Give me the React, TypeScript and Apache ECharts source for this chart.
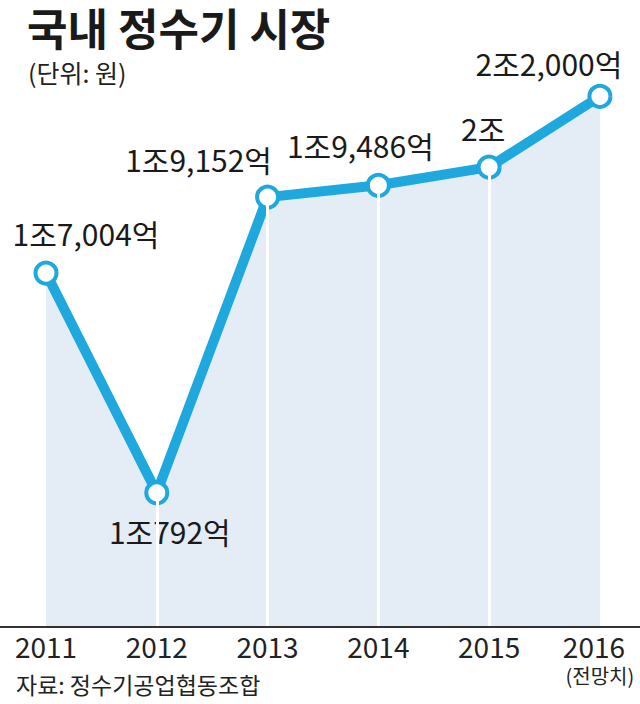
import React, { useEffect, useRef } from 'react';
import * as echarts from 'echarts';

const categories = ['2011', '2012', '2013', '2014', '2015', '2016'];
const values = [17004, 10792, 19152, 19486, 20000, 22000]; // 억원
const valueLabels = ['1조7,004억', '1조792억', '1조9,152억', '1조9,486억', '2조', '2조2,000억'];
const forecastNote = '(전망치)';
const titleText = '국내 정수기 시장';
const unitText = '(단위: 원)';
const sourceText = '자료: 정수기공업협동조합';

const labelOffsets = [
  [40, -40],
  [13, 38],
  [-69, -38],
  [-18, -40],
  [-6, -39],
  [-51, -33],
];

const FONT = '"Noto Sans CJK KR", "Noto Sans", sans-serif';
const LINE = '#1ea8dd';
const AREA = '#e4ecf6';
const Y_MIN = 7000;
const Y_MAX = 23000;

export default function App() {
  const ref = useRef<HTMLDivElement>(null);
  useEffect(() => {
    if (!ref.current) return;
    const chart = echarts.init(ref.current, null, { renderer: 'svg' });
    const option: any = {
      animation: false,
      backgroundColor: '#ffffff',
      grid: { left: 46, right: 37, top: 61, bottom: 77 },
      xAxis: {
        type: 'category',
        data: categories,
        boundaryGap: false,
        axisLine: { show: false },
        axisTick: { show: false },
        splitLine: { show: false },
        axisLabel: {
          interval: 0,
          margin: 4,
          fontSize: 28,
          color: '#222',
          fontFamily: FONT,
          lineHeight: 30,
          verticalAlign: 'top',
          formatter: (v: string, i: number) =>
            i === categories.length - 1 ? `{y|${v}}\n{s|${forecastNote}}` : v,
          rich: {
            y: { fontSize: 28, color: '#222', fontFamily: FONT, lineHeight: 30, padding: [0, 12, 0, 0] },
            s: { fontSize: 20, color: '#222', fontFamily: FONT, lineHeight: 29 },
          },
        },
      },
      yAxis: {
        type: 'value',
        min: Y_MIN,
        max: Y_MAX,
        show: false,
        splitLine: { show: false },
      },
      series: [
        {
          type: 'line',
          data: values,
          symbol: 'none',
          lineStyle: { width: 0 },
          areaStyle: { color: AREA, opacity: 1 },
          z: 1,
          silent: true,
        },
        {
          type: 'line',
          data: values,
          symbol: 'none',
          lineStyle: { width: 0, opacity: 0 },
          z: 2,
          silent: true,
          markLine: {
            silent: true,
            symbol: 'none',
            label: { show: false },
            lineStyle: { color: '#ffffff', width: 3, type: 'solid' },
            data: values
              .map((v, i) => [
                { coord: [categories[i], v] },
                { coord: [categories[i], Y_MIN] },
              ])
              .slice(1, values.length - 1),
          },
        },
        {
          type: 'line',
          data: values.map((v, i) => ({
            value: v,
            label: {
              show: true,
              position: 'inside',
              offset: labelOffsets[i],
              formatter: valueLabels[i],
            },
          })),
          z: 3,
          lineStyle: { color: LINE, width: 10 },
          symbol: 'circle',
          symbolSize: 21,
          itemStyle: { color: '#ffffff', borderColor: LINE, borderWidth: 4 },
          label: {
            show: true,
            fontSize: 30,
            color: '#1a1a1a',
            fontFamily: FONT,
            align: 'center',
            verticalAlign: 'middle',
          },
        },
      ],
      graphic: [
        {
          type: 'line',
          shape: { x1: 0, y1: 627, x2: 640, y2: 627 },
          style: { stroke: '#333', lineWidth: 2 },
          z: 10,
        },
        {
          type: 'text',
          left: 27,
          top: 3,
          style: {
            text: titleText,
            fontSize: 44,
            lineHeight: 48,
            fontWeight: 'bold',
            fill: '#1a1a1a',
            fontFamily: FONT,
          },
        },
        {
          type: 'text',
          left: 28,
          top: 58,
          style: {
            text: unitText,
            fontSize: 25,
            lineHeight: 28,
            fill: '#222',
            fontFamily: FONT,
          },
        },
        {
          type: 'text',
          left: 16,
          top: 672,
          style: {
            text: sourceText,
            fontSize: 23,
            fill: '#222',
            fontFamily: FONT,
          },
        },
      ],
    };
    chart.setOption(option);
    return () => chart.dispose();
  }, []);
  return (
    <div
      ref={ref}
      style={{ position: 'absolute', left: 0, top: 0, width: 640, height: 704 }}
    />
  );
}
